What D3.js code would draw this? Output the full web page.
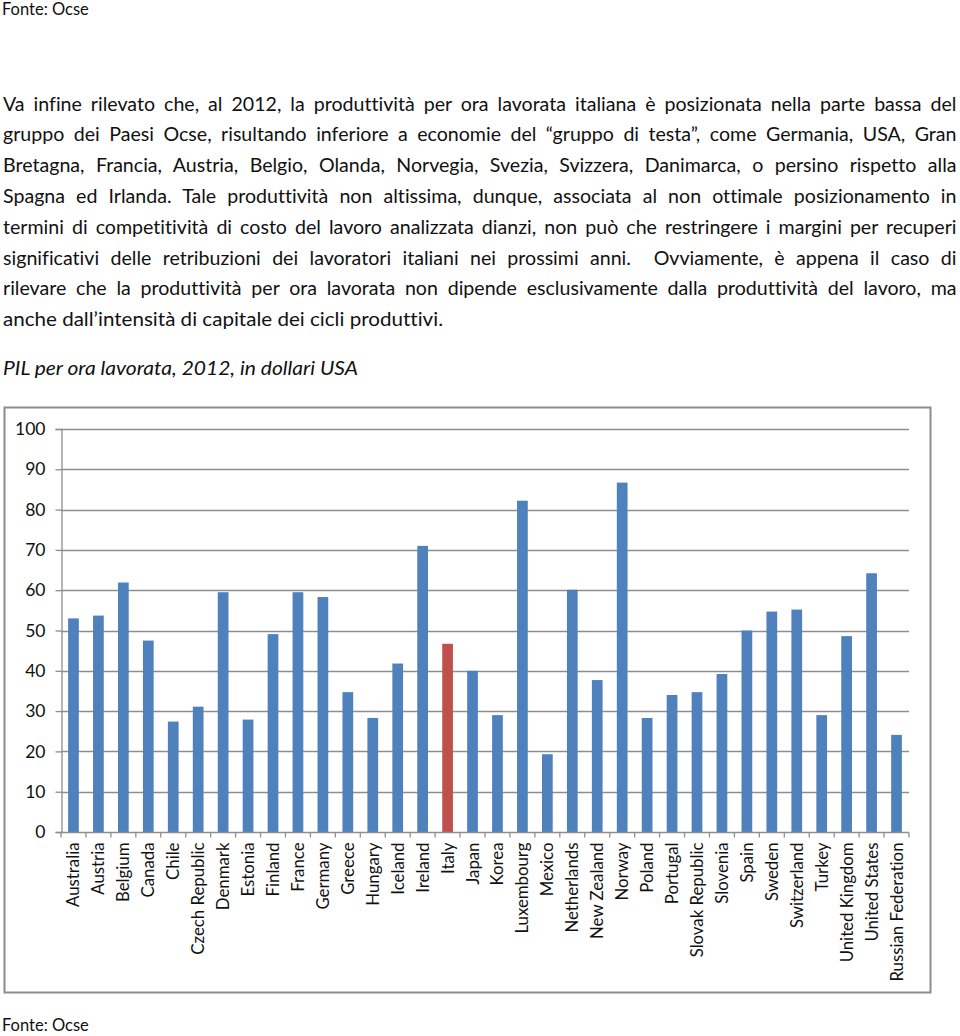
<!DOCTYPE html>
<html><head><meta charset="utf-8">
<script src="https://cdn.jsdelivr.net/npm/d3@7"></script>
<style>
html,body{margin:0;padding:0;background:#fff;}
svg{display:block;}
text{font-variant-ligatures:none;font-feature-settings:"liga" 0,"clig" 0;}
</style></head>
<body>
<script>
const countries = ["Australia","Austria","Belgium","Canada","Chile","Czech Republic","Denmark","Estonia","Finland","France","Germany","Greece","Hungary","Iceland","Ireland","Italy","Japan","Korea","Luxembourg","Mexico","Netherlands","New Zealand","Norway","Poland","Portugal","Slovak Republic","Slovenia","Spain","Sweden","Switzerland","Turkey","United Kingdom","United States","Russian Federation"];
const values = [53.0,53.7,61.9,47.5,27.4,31.1,59.5,27.9,49.1,59.5,58.3,34.7,28.3,41.8,71.0,46.7,40.0,29.0,82.2,19.3,60.1,37.7,86.7,28.3,34.0,34.7,39.2,50.0,54.7,55.2,29.0,48.6,64.2,24.1];
const highlight = "Italy";
const yTicks = [0,10,20,30,40,50,60,70,80,90,100];
const sourceText = "Fonte: Ocse";
const titleText = "PIL per ora lavorata, 2012, in dollari USA";
const paragraphLines = [
 "Va infine rilevato che, al 2012, la produttività per ora lavorata italiana è posizionata nella parte bassa del",
 "gruppo dei Paesi Ocse, risultando inferiore a economie del “gruppo di testa”, come Germania, USA, Gran",
 "Bretagna, Francia, Austria, Belgio, Olanda, Norvegia, Svezia, Svizzera, Danimarca, o persino rispetto alla",
 "Spagna ed Irlanda. Tale produttività non altissima, dunque, associata al non ottimale posizionamento in",
 "termini di competitività di costo del lavoro analizzata dianzi, non può che restringere i margini per recuperi",
 "significativi delle retribuzioni dei lavoratori italiani nei prossimi anni.  Ovviamente, è appena il caso di",
 "rilevare che la produttività per ora lavorata non dipende esclusivamente dalla produttività del lavoro, ma",
 "anche dall’intensità di capitale dei cicli produttivi."
];

const W = 960, H = 1036;
const FONT = "Lato, 'Open Sans', sans-serif";
const svg = d3.select("body").append("svg").attr("width", W).attr("height", H);

// top source
svg.append("text").attr("x",2).attr("y",14.5).attr("font-family",FONT).attr("font-size",16.5).attr("fill","#111").text(sourceText);

// paragraph, justified
const left = 3, right = 956.5;
paragraphLines.forEach((line,i)=>{
  const t = svg.append("text").attr("x",left).attr("y",110.5 + i*30.8)
    .attr("font-family",FONT).attr("font-size",19.6).attr("fill","#111")
    .style("white-space","pre").text(line);
  const w = t.node().getComputedTextLength();
  if (i < paragraphLines.length-1) {
    const n = (line.match(/ /g)||[]).length;
    const ws = (right-left - w)/n;
    if (ws > -1.5) t.attr("word-spacing", ws);
    else t.attr("textLength", right-left).attr("lengthAdjust","spacingAndGlyphs");
  } else {
    if (Math.abs(w-440) > 6) t.attr("textLength",440).attr("lengthAdjust","spacingAndGlyphs");
  }
});

// title
const tt = svg.append("text").attr("x",3).attr("y",375).attr("font-family",FONT).attr("font-style","italic")
  .attr("font-size",20).attr("fill","#111").text(titleText);
if (Math.abs(tt.node().getComputedTextLength()-355) > 5) tt.attr("textLength",355).attr("lengthAdjust","spacingAndGlyphs");

// chart frame
svg.append("rect").attr("x",4.5).attr("y",407.5).attr("width",926).attr("height",585)
  .attr("fill","#fff").attr("stroke","#8c8c8c").attr("stroke-width",2);

const x = d3.scaleBand().domain(countries).range([61,909]).paddingInner(0.57).paddingOuter(0.285);
const y = d3.scaleLinear().domain([0,100]).range([832,429]);

// gridlines
svg.append("g").selectAll("line").data(yTicks.filter(d=>d>0)).join("line")
  .attr("x1",61).attr("x2",909).attr("y1",d=>Math.round(y(d))+0.5).attr("y2",d=>Math.round(y(d))+0.5)
  .attr("stroke","#8e8e8e").attr("stroke-width",1.3);

// y axis
const yAxis = svg.append("g").attr("transform","translate(61.5,0)")
  .call(d3.axisLeft(y).tickValues(yTicks).tickSize(6).tickPadding(10));
yAxis.select(".domain").attr("stroke","#8e8e8e").attr("stroke-width",1.3);
yAxis.selectAll(".tick line").attr("stroke","#8e8e8e").attr("stroke-width",1.3);
yAxis.selectAll(".tick text").attr("font-family",FONT).attr("font-size",17.5).attr("fill","#111");

// bars
svg.append("g").selectAll("rect").data(countries.map((c,i)=>({c,v:values[i]}))).join("rect")
  .attr("x",d=>x(d.c)).attr("width",x.bandwidth())
  .attr("y",d=>y(d.v)).attr("height",d=>y(0)-y(d.v))
  .attr("fill",d=>d.c===highlight?"#C0504D":"#4F81BD");

// x axis
const step = x.step();
const xg = svg.append("g").attr("transform","translate(0,832.5)");
xg.append("line").attr("x1",61).attr("x2",909).attr("stroke","#8e8e8e").attr("stroke-width",1.3);
xg.selectAll("line.tk").data(d3.range(countries.length+1)).join("line").attr("class","tk")
  .attr("x1",i=>61+i*step).attr("x2",i=>61+i*step).attr("y1",0).attr("y2",5)
  .attr("stroke","#8e8e8e").attr("stroke-width",1.3);
xg.selectAll("text").data(countries).join("text")
  .attr("transform",d=>`translate(${x(d)+x.bandwidth()/2+6},10) rotate(-90)`)
  .attr("text-anchor","end").attr("font-family",FONT).attr("font-size",16.8).attr("fill","#111")
  .text(d=>d);

// bottom source
svg.append("text").attr("x",2).attr("y",1031).attr("font-family",FONT).attr("font-size",16.5).attr("fill","#111").text(sourceText);
</script>
</body></html>
